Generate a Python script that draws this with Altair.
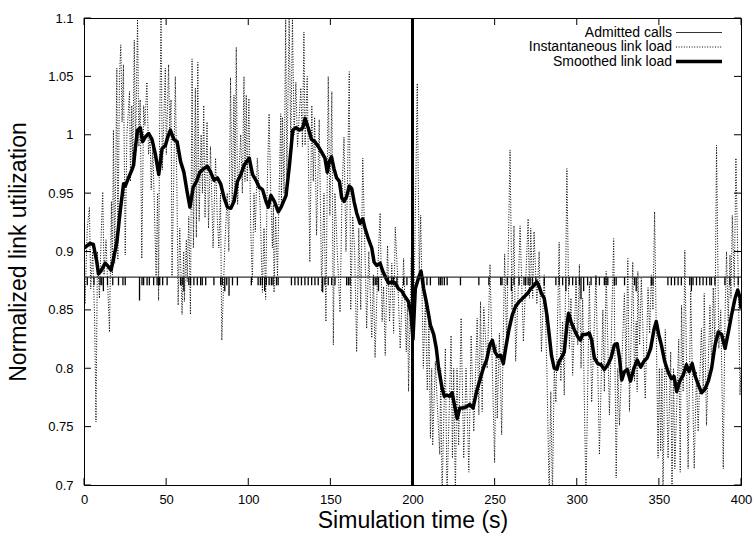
import altair as alt
import pandas as pd

FONT = "Liberation Sans"

x_ticks = [0, 50, 100, 150, 200, 250, 300, 350, 400]
y_ticks = [0.7, 0.75, 0.8, 0.85, 0.9, 0.95, 1.0, 1.05, 1.1]
legend_labels = ["Admitted calls", "Instantaneous link load", "Smoothed link load"]
x_title = "Simulation time (s)"
y_title = "Normalized link utilization"

admit_level = 0.878
admit_tick_bottom = 0.871
event_time = 200

call_times = [
    2.0, 6.1, 9.8, 10.8, 14.3, 17.5, 21.0, 23.7, 25.1, 35.3, 36.3, 38.4, 39.8,
    42.4, 44.5, 45.5, 46.1, 47.9, 50.6, 58.8, 59.8, 63.8, 64.9, 66.9, 69.0,
    71.0, 72.0, 74.1, 79.1, 83.2, 84.2, 86.9, 90.4, 93.4, 101.9, 106.0, 107.4,
    108.6, 111.0, 112.7, 114.1, 115.1, 117.2, 118.2, 126.3, 128.4, 130.4,
    132.4, 134.5, 136.5, 138.6, 140.6, 142.6, 146.7, 148.7, 150.8, 152.8,
    159.9, 161.0, 162.0, 176.2, 177.3, 178.3, 185.4, 187.4, 188.5, 190.5,
    194.6, 196.6, 206.8, 208.8, 210.9, 216.0, 217.0, 218.0, 219.4, 221.1,
    229.2, 240.4, 246.5, 253.7, 254.5, 257.7, 261.8, 264.9, 267.9, 268.9,
    270.4, 271.6, 273.0, 275.1, 280.2, 287.3, 289.3, 291.4, 295.4, 297.5,
    299.5, 301.6, 306.6, 308.7, 311.7, 313.8, 316.8, 317.8, 318.9, 322.9,
    324.0, 329.1, 335.2, 345.4, 346.4, 355.5, 357.6, 359.6, 361.7, 363.7,
    368.8, 370.8, 372.9, 374.9, 376.9, 379.0, 381.0, 382.0, 384.1, 390.2,
    393.2, 398.3,
]
deep_call_times = [11.8, 33.8, 60.8, 85.7, 88.3, 110.0, 145.3, 179.3, 260.2,
                   293.4, 302.6, 304.2, 336.2, 369.8]
deep_call_bottoms = [0.866, 0.858, 0.866, 0.866, 0.862, 0.866, 0.865, 0.866,
                     0.866, 0.866, 0.859, 0.866, 0.866, 0.866]

inst_points = [
    (0.0, 0.903), (0.6, 0.855), (2.0, 0.92), (3.3, 0.938), (4.1, 0.868),
    (5.3, 0.90), (6.5, 0.84), (7.3, 0.754), (8.2, 0.90), (9.4, 0.86),
    (10.6, 0.92), (11.4, 0.951), (12.2, 0.88), (13.4, 0.91), (15.5, 0.831),
    (16.7, 0.943), (17.3, 0.88), (17.9, 1.004), (18.7, 0.89), (20.0, 1.057),
    (20.6, 0.893), (21.6, 1.05), (22.4, 1.077), (23.2, 1.011), (24.0, 1.06),
    (25.1, 0.897), (26.1, 1.0), (27.7, 1.037), (28.3, 0.96), (29.1, 1.025),
    (29.7, 0.97), (30.6, 1.081), (31.4, 0.985), (32.6, 1.10), (33.4, 0.99),
    (34.2, 1.03), (35.2, 0.894), (36.3, 1.025), (37.1, 1.008), (38.3, 1.045),
    (39.3, 0.983), (40.3, 1.0), (40.9, 0.953), (41.9, 0.99), (43.9, 0.879),
    (44.8, 0.95), (45.4, 0.858), (46.0, 1.0), (46.9, 1.10), (47.7, 0.97),
    (49.5, 1.057), (50.1, 0.983), (51.5, 1.06), (52.2, 1.005), (53.0, 1.03),
    (53.6, 0.879), (54.6, 0.96), (55.6, 1.05), (56.6, 0.95), (57.3, 0.854),
    (58.3, 0.92), (59.7, 0.846), (60.7, 0.90), (61.1, 0.857), (62.3, 0.91),
    (62.8, 0.874), (63.8, 0.93), (64.8, 0.846), (65.8, 1.065), (66.6, 0.903),
    (67.8, 1.040), (68.4, 0.912), (69.3, 1.062), (70.1, 0.926), (71.3, 1.0),
    (72.1, 0.95), (72.9, 1.025), (73.7, 0.929), (74.9, 1.011), (75.8, 0.92),
    (77.0, 0.99), (78.6, 0.903), (80.1, 0.98), (81.1, 0.93), (82.1, 0.903),
    (83.1, 0.95), (83.9, 0.824), (85.6, 0.90), (87.2, 0.95), (88.2, 0.90),
    (89.2, 1.049), (90.2, 0.94), (91.3, 1.034), (91.9, 0.95), (92.7, 1.075),
    (93.5, 0.94), (95.4, 1.0), (96.4, 0.95), (97.4, 1.05), (98.0, 0.96),
    (98.8, 1.034), (99.4, 0.96), (100.4, 1.031), (101.5, 0.92), (102.5, 0.874),
    (103.5, 0.95), (104.3, 0.917), (105.5, 0.98), (107.2, 0.94), (108.6, 0.865),
    (109.6, 0.92), (110.6, 0.859), (111.6, 0.96), (112.7, 1.018), (113.7, 0.95),
    (114.7, 0.903), (115.3, 0.94), (115.7, 0.865), (116.7, 0.93), (117.8, 0.879),
    (118.8, 0.95), (119.8, 1.018), (120.2, 0.94), (120.8, 1.015), (121.8, 0.95),
    (122.8, 1.10), (123.5, 0.964), (124.9, 1.10), (125.9, 0.99), (126.9, 1.10),
    (127.9, 1.0), (129.0, 1.045), (130.0, 0.99), (132.0, 1.04), (133.0, 0.99),
    (133.9, 1.088), (134.6, 0.991), (135.9, 1.05), (137.5, 0.891), (138.7, 1.025),
    (139.6, 0.96), (140.4, 1.015), (141.6, 0.914), (143.2, 1.013), (144.7, 0.866),
    (146.1, 0.95), (147.3, 0.840), (148.7, 1.05), (149.7, 0.931), (150.9, 1.037),
    (151.8, 0.82), (152.8, 0.95), (154.2, 0.90), (155.9, 0.848), (157.1, 0.95),
    (158.3, 0.998), (159.5, 0.90), (160.3, 0.95), (161.5, 1.054), (162.4, 0.85),
    (163.6, 0.93), (164.8, 0.90), (166.0, 0.814), (167.3, 0.92), (168.5, 0.85),
    (169.7, 0.98), (170.9, 0.91), (172.1, 0.834), (173.4, 0.90), (175.2, 0.826),
    (176.2, 0.88), (177.2, 0.809), (178.7, 0.88), (180.3, 0.933), (181.5, 0.84),
    (182.4, 0.87), (183.4, 0.811), (184.8, 0.905), (186.0, 0.84), (187.4, 0.89),
    (188.5, 0.83), (189.5, 0.921), (190.9, 0.88), (192.5, 0.817), (194.6, 0.894),
    (196.2, 0.814), (197.0, 0.86), (197.6, 0.780), (199.2, 0.895), (200.3, 0.80),
    (201.7, 0.93), (202.9, 1.044), (204.1, 0.88), (205.0, 0.931), (206.6, 0.80),
    (207.8, 0.86), (209.0, 0.781), (210.0, 0.84), (210.9, 0.740), (211.7, 0.80),
    (212.3, 0.734), (213.9, 0.806), (215.4, 0.76), (216.6, 0.726), (217.2, 0.80),
    (218.0, 0.69), (220.0, 0.817), (221.0, 0.69), (223.5, 0.828), (224.3, 0.723),
    (225.1, 0.80), (226.1, 0.69), (227.1, 0.80), (228.1, 0.734), (229.6, 0.843),
    (231.2, 0.723), (232.6, 0.80), (234.3, 0.711), (235.7, 0.828), (237.3, 0.746),
    (239.4, 0.843), (240.4, 0.76), (241.4, 0.857), (242.4, 0.763), (243.4, 0.852),
    (245.5, 0.80), (247.2, 0.889), (248.6, 0.80), (250.0, 0.719), (250.9, 0.82),
    (251.6, 0.757), (252.9, 0.83), (254.3, 0.743), (256.1, 0.898), (257.3, 0.82),
    (259.4, 0.987), (260.6, 0.85), (261.8, 0.922), (262.8, 0.806), (264.2, 0.86),
    (265.5, 0.922), (267.5, 0.823), (270.4, 0.928), (271.2, 0.86), (272.0, 0.92),
    (273.2, 0.86), (274.0, 0.917), (275.7, 0.855), (277.1, 0.90), (278.5, 0.814),
    (280.2, 0.88), (281.8, 0.80), (283.2, 0.69), (284.2, 0.78), (285.2, 0.69),
    (286.3, 0.80), (287.3, 0.771), (289.3, 0.908), (290.3, 0.789), (291.4, 0.84),
    (292.4, 0.777), (294.0, 0.971), (295.5, 0.817), (296.5, 0.86), (297.5, 0.794),
    (299.6, 0.874), (300.6, 0.82), (301.6, 0.889), (302.6, 0.80), (303.6, 0.86),
    (305.6, 0.69), (307.7, 0.874), (309.1, 0.771), (311.7, 0.880), (312.8, 0.80),
    (313.8, 0.726), (315.9, 0.85), (316.8, 0.78), (317.9, 0.883), (319.9, 0.760),
    (322.5, 0.911), (324.0, 0.706), (325.0, 0.80), (326.0, 0.751), (329.0, 0.864),
    (330.0, 0.80), (331.1, 0.894), (332.1, 0.763), (334.1, 0.891), (335.2, 0.789),
    (336.2, 0.84), (336.8, 0.780), (337.2, 0.883), (338.3, 0.82), (339.3, 0.877),
    (341.7, 0.774), (343.4, 0.869), (344.4, 0.83), (345.4, 0.880), (346.4, 0.85),
    (347.4, 0.934), (349.5, 0.723), (350.3, 0.80), (351.1, 0.729), (351.9, 0.80),
    (352.5, 0.69), (353.9, 0.833), (355.6, 0.723), (357.2, 0.814), (358.0, 0.69),
    (358.9, 0.80), (359.7, 0.714), (362.1, 0.825), (363.0, 0.711), (363.8, 0.854),
    (364.8, 0.78), (365.8, 0.901), (367.8, 0.714), (369.4, 0.866), (371.5, 0.714),
    (372.9, 0.797), (373.9, 0.746), (375.9, 0.834), (377.0, 0.78), (377.6, 0.864),
    (379.0, 0.751), (381.1, 0.854), (382.1, 0.80), (383.1, 0.869), (384.1, 0.82),
    (385.1, 0.991), (386.5, 0.817), (387.7, 0.85), (389.2, 0.714), (390.2, 0.84),
    (391.2, 0.900), (392.2, 0.84), (393.3, 0.897), (393.9, 0.86), (394.7, 0.931),
    (395.9, 0.87), (396.9, 0.980), (398.4, 0.87), (399.4, 0.777), (400.0, 0.80),
]

smooth_points = [
    (0.0, 0.903), (3.7, 0.907), (5.7, 0.906), (7.8, 0.891), (8.8, 0.881),
    (10.2, 0.883), (12.9, 0.890), (14.9, 0.887), (16.5, 0.884), (18.0, 0.894),
    (20.0, 0.908), (22.0, 0.934), (24.1, 0.958), (25.1, 0.956), (27.1, 0.963),
    (29.2, 0.970), (30.2, 0.974), (31.2, 0.988), (32.6, 1.004), (34.3, 1.006),
    (35.7, 0.994), (37.3, 0.998), (39.4, 1.001), (41.4, 0.996), (43.5, 0.983),
    (45.5, 0.966), (47.5, 0.988), (49.6, 0.991), (51.0, 0.998), (52.6, 1.004),
    (54.7, 0.996), (56.7, 0.994), (58.8, 0.977), (60.8, 0.968), (62.8, 0.951),
    (64.5, 0.938), (66.5, 0.955), (68.5, 0.960), (70.6, 0.968), (73.0, 0.971),
    (75.1, 0.973), (77.1, 0.968), (79.2, 0.961), (81.2, 0.963), (83.2, 0.958),
    (85.3, 0.946), (87.3, 0.938), (89.4, 0.937), (91.4, 0.943), (93.4, 0.960),
    (95.5, 0.966), (97.5, 0.974), (100.6, 0.980), (102.6, 0.966), (104.7, 0.961),
    (106.7, 0.955), (108.7, 0.953), (110.8, 0.943), (112.2, 0.938), (113.8, 0.948),
    (115.9, 0.943), (118.3, 0.934), (120.0, 0.938), (123.0, 0.948), (125.1, 0.974),
    (127.1, 1.004), (129.1, 1.006), (131.2, 1.004), (133.2, 1.006), (134.6, 1.014),
    (136.5, 1.006), (138.5, 0.996), (140.6, 0.994), (142.6, 0.990), (144.7, 0.985),
    (146.7, 0.980), (148.1, 0.968), (149.3, 0.977), (150.7, 0.981), (152.2, 0.971),
    (153.8, 0.963), (155.5, 0.960), (156.9, 0.946), (158.3, 0.943), (159.9, 0.947),
    (161.5, 0.956), (163.0, 0.954), (164.4, 0.943), (166.0, 0.933), (168.1, 0.924),
    (169.7, 0.928), (171.1, 0.920), (173.1, 0.911), (175.2, 0.903), (176.6, 0.891),
    (178.2, 0.888), (180.3, 0.890), (181.9, 0.883), (183.9, 0.877), (185.4, 0.873),
    (187.4, 0.874), (189.5, 0.873), (191.5, 0.868), (193.5, 0.866), (195.6, 0.861),
    (197.6, 0.857), (199.1, 0.846), (200.3, 0.825), (201.7, 0.868), (203.8, 0.878),
    (205.2, 0.883), (206.8, 0.868), (208.8, 0.854), (210.9, 0.837), (212.9, 0.829),
    (214.5, 0.817), (215.9, 0.800), (218.0, 0.783), (219.4, 0.776), (221.0, 0.777),
    (222.7, 0.776), (224.1, 0.779), (225.5, 0.769), (227.2, 0.757), (228.8, 0.766),
    (230.8, 0.766), (232.9, 0.767), (234.9, 0.769), (236.9, 0.766), (239.0, 0.780),
    (241.0, 0.790), (243.1, 0.800), (245.1, 0.807), (247.1, 0.820), (248.6, 0.824),
    (250.2, 0.814), (252.0, 0.810), (253.7, 0.811), (255.3, 0.804), (256.7, 0.817),
    (258.7, 0.833), (260.8, 0.846), (262.8, 0.853), (264.9, 0.857), (267.9, 0.861),
    (270.0, 0.864), (272.0, 0.868), (274.0, 0.871), (275.7, 0.874), (277.1, 0.870),
    (278.5, 0.864), (280.2, 0.860), (281.8, 0.846), (283.2, 0.829), (284.6, 0.811),
    (286.3, 0.800), (287.9, 0.799), (289.3, 0.806), (290.7, 0.809), (292.4, 0.814),
    (294.0, 0.837), (295.0, 0.847), (296.5, 0.840), (298.5, 0.833), (300.6, 0.827),
    (302.2, 0.824), (303.6, 0.829), (305.6, 0.829), (307.7, 0.830), (309.1, 0.824),
    (310.7, 0.809), (312.8, 0.804), (314.8, 0.803), (316.8, 0.799), (318.9, 0.803),
    (320.9, 0.809), (322.9, 0.820), (324.6, 0.821), (326.0, 0.809), (327.4, 0.790),
    (329.0, 0.797), (330.7, 0.799), (332.7, 0.789), (334.8, 0.800), (336.8, 0.807),
    (338.9, 0.801), (340.9, 0.806), (342.9, 0.809), (345.0, 0.817), (347.0, 0.833),
    (348.4, 0.840), (349.9, 0.829), (351.5, 0.820), (353.5, 0.806), (355.6, 0.797),
    (357.6, 0.791), (359.2, 0.793), (360.9, 0.780), (362.7, 0.789), (364.8, 0.794),
    (366.8, 0.803), (368.4, 0.797), (370.3, 0.804), (371.9, 0.794), (374.0, 0.786),
    (376.0, 0.779), (378.0, 0.782), (380.1, 0.789), (382.1, 0.800), (384.2, 0.820),
    (386.2, 0.831), (388.2, 0.829), (390.3, 0.817), (392.3, 0.831), (394.3, 0.846),
    (396.4, 0.860), (398.0, 0.867), (399.5, 0.860), (400.0, 0.851),
]

# ---------------------------------------------------------------- frames
inst_df = pd.DataFrame(inst_points, columns=["t", "v"])
smooth_df = pd.DataFrame(smooth_points, columns=["t", "v"])
calls_df = pd.DataFrame({
    "t": call_times + deep_call_times,
    "v": admit_level,
    "v2": [admit_tick_bottom] * len(call_times) + deep_call_bottoms,
})
base_df = pd.DataFrame({"t": [x_ticks[0]], "t2": [x_ticks[-1]], "v": [admit_level]})
event_df = pd.DataFrame({"t": [event_time], "v": [y_ticks[0]], "v2": [y_ticks[-1]]})
xt_df = pd.DataFrame({"t": x_ticks})
yt_df = pd.DataFrame({"v": y_ticks})
one = pd.DataFrame({"k": [0]})

W, H = 657, 467
TICK = 7

xaxis = alt.Axis(values=x_ticks, ticks=False, grid=False, domainColor="black",
                 labelFont=FONT, labelFontSize=13, labelColor="black",
                 labelPadding=8, labelFlush=False,
                 title=x_title, titleFont=FONT, titleFontSize=23,
                 titleFontWeight="normal", titleColor="black", titlePadding=3)
yaxis = alt.Axis(values=y_ticks, format="~g", ticks=False, grid=False,
                 domainColor="black", labelFont=FONT, labelFontSize=13,
                 labelColor="black", labelPadding=11, labelFlush=False,
                 title=y_title, titleFont=FONT, titleFontSize=23,
                 titleFontWeight="normal", titleColor="black", titlePadding=17)

X = alt.X("t:Q", scale=alt.Scale(domain=[0, 400], nice=False, zero=False), axis=xaxis)
Y = alt.Y("v:Q", scale=alt.Scale(domain=[0.7, 1.1], nice=False, zero=False), axis=yaxis)

inst = alt.Chart(inst_df).mark_line(
    color="black", strokeWidth=1, strokeDash=[1, 1.6], clip=True
).encode(x=X, y=Y)

smooth = alt.Chart(smooth_df).mark_line(
    color="black", strokeWidth=3.5, clip=True, strokeJoin="round"
).encode(x=X, y=Y)

base = alt.Chart(base_df).mark_rule(color="#333333", strokeWidth=1.2).encode(
    x=X, x2="t2:Q", y=Y)

calls = alt.Chart(calls_df).mark_rule(color="black", strokeWidth=1.3).encode(
    x=X, y=Y, y2="v2:Q")

event = alt.Chart(event_df).mark_rule(color="black", strokeWidth=3).encode(
    x=X, y=Y, y2="v2:Q")

xt_top = alt.Chart(xt_df).mark_rule(color="black", strokeWidth=1).encode(
    x=X, y=alt.value(0), y2=alt.value(TICK))
xt_bot = alt.Chart(xt_df).mark_rule(color="black", strokeWidth=1).encode(
    x=X, y=alt.value(H), y2=alt.value(H - TICK))
yt_left = alt.Chart(yt_df).mark_rule(color="black", strokeWidth=1).encode(
    y=Y, x=alt.value(0), x2=alt.value(TICK))
yt_right = alt.Chart(yt_df).mark_rule(color="black", strokeWidth=1).encode(
    y=Y, x=alt.value(W), x2=alt.value(W - TICK))

leg_rows = [14.5, 29.0, 43.5]
leg_text_x = 588
leg_line = (592, 638)
legend_layers = []
for lab, ry in zip(legend_labels, leg_rows):
    legend_layers.append(
        alt.Chart(one).mark_text(text=lab, align="right", baseline="middle",
                                 font=FONT, fontSize=14, color="black")
        .encode(x=alt.value(leg_text_x), y=alt.value(ry))
    )
legend_layers.append(
    alt.Chart(one).mark_rule(color="#333333", strokeWidth=1.2).encode(
        x=alt.value(leg_line[0]), x2=alt.value(leg_line[1]), y=alt.value(leg_rows[0])))
legend_layers.append(
    alt.Chart(one).mark_rule(color="black", strokeWidth=1, strokeDash=[1, 1.6]).encode(
        x=alt.value(leg_line[0]), x2=alt.value(leg_line[1]), y=alt.value(leg_rows[1])))
legend_layers.append(
    alt.Chart(one).mark_rule(color="black", strokeWidth=3.5).encode(
        x=alt.value(leg_line[0]), x2=alt.value(leg_line[1]), y=alt.value(leg_rows[2])))

chart = alt.layer(
    inst, smooth, base, calls, event, xt_top, xt_bot, yt_left, yt_right,
    *legend_layers
).properties(
    width=W, height=H,
    padding={"left": 84, "top": 18, "right": 14, "bottom": 48},
    autosize=alt.AutoSizeParams(type="none"),
    background="white",
).configure_view(stroke="black", strokeWidth=1)

chart.save("out.html", embed_options={"renderer": "svg", "actions": False})
